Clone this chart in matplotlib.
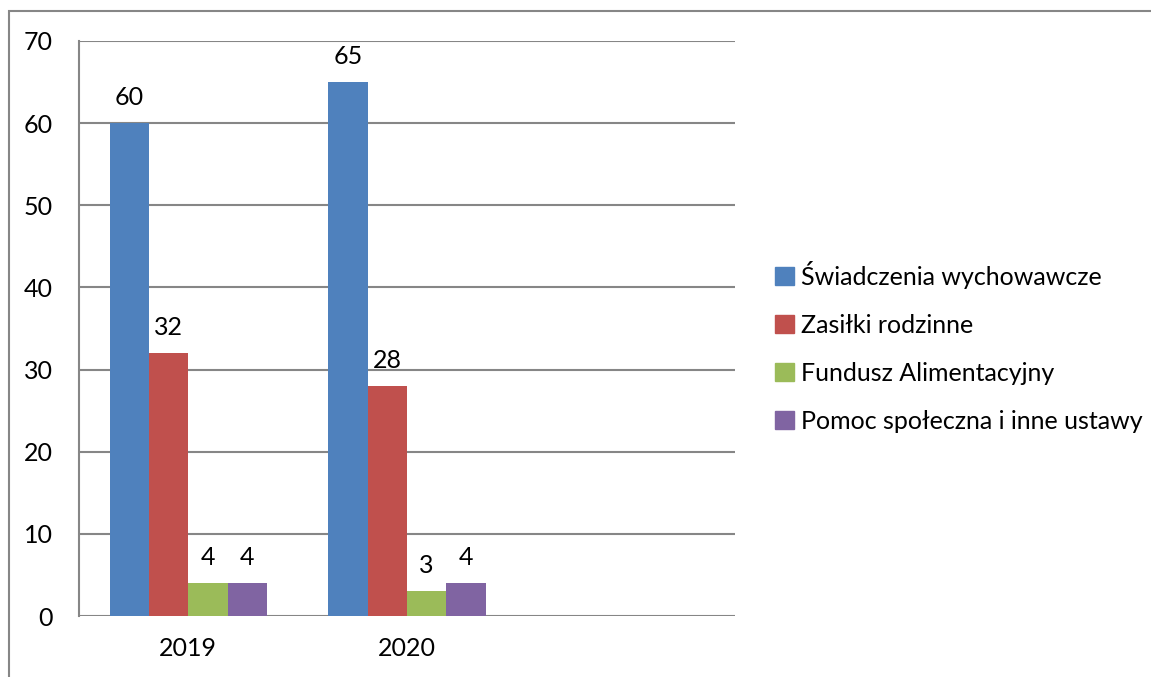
import matplotlib.pyplot as plt
import matplotlib.patches as mpatches
import numpy as np

plt.rcParams['font.family'] = ['Lato', 'DejaVu Sans']

# data
years = ["2019", "2020", ""]
series = ["Świadczenia wychowawcze", "Zasiłki rodzinne",
          "Fundusz Alimentacyjny", "Pomoc społeczna i inne ustawy"]
swiadczenia = [60, 65]
zasilki = [32, 28]
fundusz = [4, 3]
pomoc = [4, 4]
colors = ["#4F81BD", "#C0504D", "#9BBB59", "#8064A2"]

W, H = 1151, 677
fig = plt.figure(figsize=(W / 100, H / 100), dpi=100)
ax = fig.add_axes([79 / W, (H - 616) / H, (735 - 79) / W, (616 - 41) / H])

grid_c = "#868686"
fs = 18
w = 0.18
x = np.arange(len(swiadczenia))
for i, (vals, name, c) in enumerate(zip([swiadczenia, zasilki, fundusz, pomoc], series, colors)):
    bars = ax.bar(x + (i - 1.5) * w, vals, w, color=c, label=name, zorder=3)
    for b, v in zip(bars, vals):
        ax.annotate(str(v), (b.get_x() + b.get_width() / 2, v), xytext=(0, 10),
                    textcoords="offset points", ha="center", va="bottom", fontsize=fs)

ax.set_xlim(-0.5, 2.5)
ax.set_ylim(0, 70)
ax.set_yticks(range(0, 71, 10))
ax.set_xticks(range(len(years)))
ax.set_xticklabels(years)
ax.tick_params(axis="y", length=0, pad=19, labelsize=fs)
ax.tick_params(axis="x", length=0, pad=15, labelsize=fs)
ax.grid(axis="y", color=grid_c, linewidth=1.5, zorder=0)
for s in ["top", "right", "bottom"]:
    ax.spines[s].set_visible(False)
ax.spines["left"].set_color(grid_c)
ax.spines["left"].set_linewidth(1.5)

handles = [mpatches.Patch(color=c) for c in colors]
fig.legend(handles, series, loc="center left", bbox_to_anchor=(775 / W, (H - 347) / H),
           frameon=False, fontsize=fs, handlelength=0.75, handleheight=0.75,
           handletextpad=0.3, labelspacing=1.0, borderpad=0, borderaxespad=0)

# outer chart border (only left and top visible)
border = mpatches.Rectangle((9 / W, -0.05), 1.1, (H - 11) / H + 0.05, transform=fig.transFigure,
                            fill=False, edgecolor=grid_c, linewidth=1.5, clip_on=False)
fig.patches.append(border)

fig.savefig("out.png", dpi=100)
